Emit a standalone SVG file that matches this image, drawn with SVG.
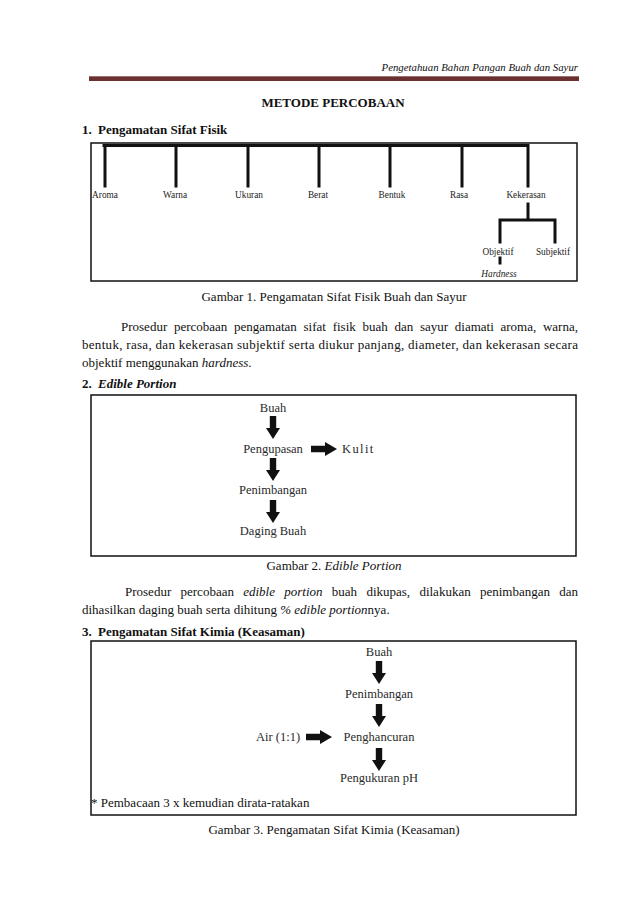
<svg xmlns="http://www.w3.org/2000/svg" width="638" height="903" viewBox="0 0 638 903">
<style>
  .body{font-family:"Liberation Serif","Times New Roman",serif;font-size:13px;fill:#111}
  .hd{font-family:"Liberation Serif",serif;font-size:13px;font-weight:bold;fill:#111}
  .cap{font-family:"Liberation Serif",serif;font-size:13px;fill:#111;text-anchor:middle}
  .tl{font-family:"Liberation Serif",serif;font-size:9.3px;fill:#222;text-anchor:middle}
  .fl{font-family:"Liberation Serif",serif;font-size:12.5px;fill:#2a2a2a;text-anchor:middle}
  .st{text-anchor:start}
  .box{fill:none;stroke:#111;stroke-width:1.5}
  .tree{fill:none;stroke:#111;stroke-width:3;stroke-linecap:square}
  .arr{fill:#111}
  .it{font-style:italic}
</style>
<defs>
  <path id="adown" d="M-3.2,0 H3.2 V12 H7 L0,23 L-7,12 H-3.2 Z"/>
  <path id="aright" d="M0,-3.3 V3.3 H14 V7 L26,0 L14,-7 V-3.3 Z"/>
</defs>
<rect width="638" height="903" fill="#fff"/>

<!-- page header -->
<g id="header">
  <text x="578" y="71" font-family="Liberation Serif,serif" font-size="10.8" font-style="italic" text-anchor="end" fill="#111">Pengetahuan Bahan Pangan Buah dan Sayur</text>
  <line x1="89" y1="76.5" x2="579" y2="76.5" stroke="#a07070" stroke-width="1"/>
  <rect x="89" y="77" width="490" height="4" fill="#6b3030"/>
</g>

<text class="hd" x="333" y="107" text-anchor="middle">METODE PERCOBAAN</text>
<text class="hd" x="82" y="134">1.<tspan x="98">Pengamatan Sifat Fisik</tspan></text>

<!-- Figure 1 -->
<g id="fig1">
  <rect class="box" x="91" y="143" width="486" height="138"/>
  <g id="tree-connectors">
    <path class="tree" d="M104,145.5 H528 M105,145.5 V186 M176,145.5 V186 M248,145.5 V186 M319,145.5 V186 M390,145.5 V186 M462,145.5 V186 M528,145.5 V186"/>
    <path class="tree" d="M528,204 V220 M500,220 H555 M500,220 V242 M555,220 V242"/>
    <path class="tree" d="M500,258 V263" stroke-width="2.5"/>
  </g>
  <g id="n-aroma"><text class="tl" x="105" y="198">Aroma</text></g>
  <g id="n-warna"><text class="tl" x="175" y="198">Warna</text></g>
  <g id="n-ukuran"><text class="tl" x="249" y="198">Ukuran</text></g>
  <g id="n-berat"><text class="tl" x="318" y="198">Berat</text></g>
  <g id="n-bentuk"><text class="tl" x="392" y="198">Bentuk</text></g>
  <g id="n-rasa"><text class="tl" x="459" y="198">Rasa</text></g>
  <g id="n-kekerasan"><text class="tl" x="526" y="198">Kekerasan</text></g>
  <g id="n-objektif"><text class="tl" x="498" y="255">Objektif</text></g>
  <g id="n-subjektif"><text class="tl" x="553" y="255">Subjektif</text></g>
  <g id="n-hardness"><text class="tl it" x="499" y="277">Hardness</text></g>
</g>
<text class="cap" x="334" y="301">Gambar 1. Pengamatan Sifat Fisik Buah dan Sayur</text>

<!-- paragraph 1 -->
<text class="body" x="121" y="331" word-spacing="3.46">Prosedur percobaan pengamatan sifat fisik buah dan sayur diamati aroma, warna,</text>
<text class="body" x="82" y="349" textLength="496" lengthAdjust="spacing">bentuk, rasa, dan kekerasan subjektif serta diukur panjang, diameter, dan kekerasan secara</text>
<text class="body" x="82" y="367">objektif menggunakan <tspan class="it">hardness</tspan>.</text>

<text class="hd" x="82" y="388">2.<tspan x="98" font-style="italic">Edible Portion</tspan></text>

<!-- Figure 2 -->
<g id="fig2">
  <rect class="box" x="91" y="395" width="485" height="161"/>
  <g id="fig2-connectors">
    <use href="#adown" class="arr" x="273" y="416"/>
    <use href="#adown" class="arr" x="273" y="458"/>
    <use href="#adown" class="arr" x="273" y="500"/>
    <use href="#aright" class="arr" x="311" y="449"/>
  </g>
  <g id="f2-buah"><text class="fl" x="273" y="412">Buah</text></g>
  <g id="f2-pengupasan"><text class="fl" x="273" y="453">Pengupasan</text></g>
  <g id="f2-kulit"><text class="fl st" x="342" y="453" letter-spacing="1.4">Kulit</text></g>
  <g id="f2-penimbangan"><text class="fl" x="273" y="494">Penimbangan</text></g>
  <g id="f2-daging"><text class="fl" x="273" y="535">Daging Buah</text></g>
</g>
<text class="cap" x="334" y="570">Gambar 2. <tspan class="it">Edible Portion</tspan></text>

<!-- paragraph 2 -->
<text class="body" x="125" y="596" word-spacing="6.04">Prosedur percobaan <tspan class="it">edible portion</tspan> buah dikupas, dilakukan penimbangan dan</text>
<text class="body" x="82" y="614">dihasilkan daging buah serta dihitung <tspan class="it">% edible portion</tspan>nya.</text>

<text class="hd" x="82" y="636">3.<tspan x="98">Pengamatan Sifat Kimia (Keasaman)</tspan></text>

<!-- Figure 3 -->
<g id="fig3">
  <rect class="box" x="91" y="641" width="485" height="174"/>
  <g id="fig3-connectors">
    <use href="#adown" class="arr" x="379" y="661"/>
    <use href="#adown" class="arr" x="379" y="704"/>
    <use href="#adown" class="arr" x="379" y="748"/>
    <use href="#aright" class="arr" x="306" y="737"/>
  </g>
  <g id="f3-buah"><text class="fl" x="379" y="656">Buah</text></g>
  <g id="f3-penimbangan"><text class="fl" x="379" y="698">Penimbangan</text></g>
  <g id="f3-air"><text class="fl st" x="256" y="741">Air (1:1)</text></g>
  <g id="f3-penghancuran"><text class="fl" x="379" y="741">Penghancuran</text></g>
  <g id="f3-ph"><text class="fl" x="379" y="782">Pengukuran pH</text></g>
  <text class="body" x="91" y="807">* Pembacaan 3 x kemudian dirata-ratakan</text>
</g>
<text class="cap" x="334" y="834">Gambar 3. Pengamatan Sifat Kimia (Keasaman)</text>
</svg>
